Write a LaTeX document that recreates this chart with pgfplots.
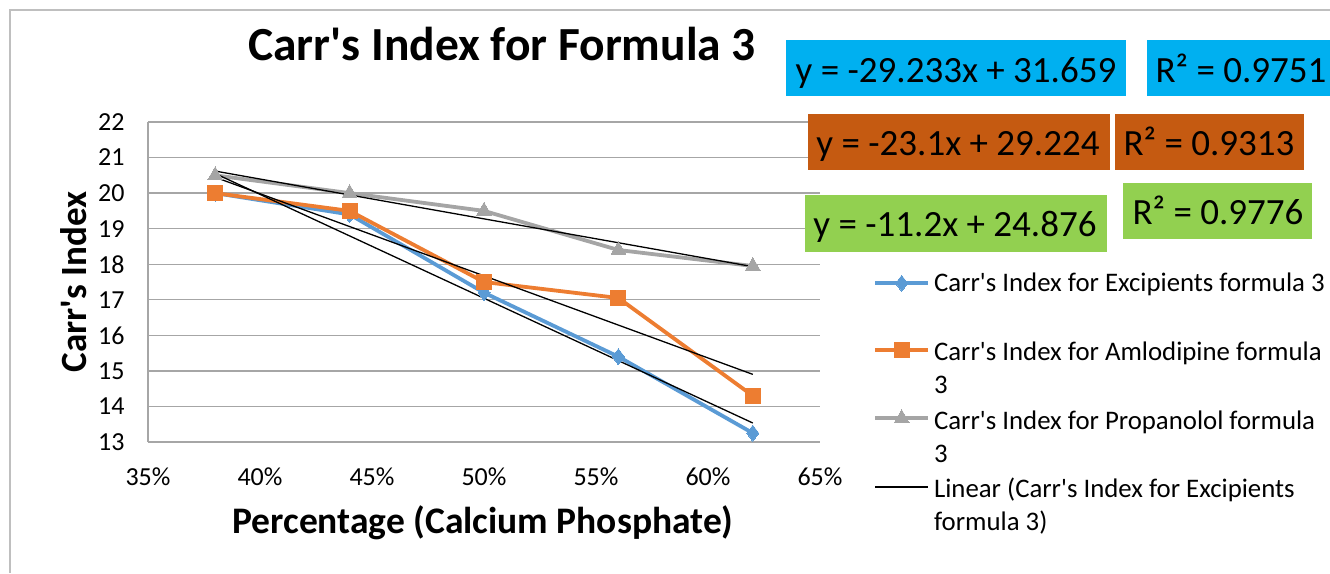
\documentclass[border=0pt]{standalone}
\usepackage{pgfplots}
\pgfplotsset{compat=1.18}
\usepackage{fontspec}
\setmainfont{Carlito}[Ligatures=TeXOff]
\definecolor{sblue}{HTML}{5B9BD5}
\definecolor{sorange}{HTML}{ED7D31}
\definecolor{sgray}{HTML}{A5A5A5}
\definecolor{eqblue}{HTML}{00B0F0}
\definecolor{eqorange}{HTML}{C55A11}
\definecolor{eqgreen}{HTML}{92D050}
\definecolor{gridc}{HTML}{A6A6A6}
\definecolor{framec}{HTML}{BFBFBF}
\newcommand{\legtwo}[2]{\begin{tabular}[t]{@{}l@{}}#1\\#2\end{tabular}}
\begin{document}
\begin{tikzpicture}[x=1pt,y=1pt]
\path[use as bounding box] (0,0) rectangle (1330,573);
\draw[framec, line width=1.3pt] (10,0) -- (10,563) -- (1330,563);
\begin{axis}[
  at={(148pt,131pt)}, anchor=south west,
  scale only axis, width=672pt, height=320pt,
  xmin=0.35, xmax=0.65, ymin=13, ymax=22,
  xtick={0.35,0.40,0.45,0.50,0.55,0.60,0.65},
  xticklabels={35\%,40\%,45\%,50\%,55\%,60\%,65\%},
  ytick={13,14,...,22},
  /pgf/number format/assume math mode=true,
  ymajorgrids, grid style={draw=gridc, line width=1.3pt},
  axis lines=left,
  axis line style={-},
  x axis line style={draw=none},
  y axis line style={draw=gridc, line width=1.3pt},
  major tick length=0pt,
  tick style={draw=none},
  ticklabel style={font=\fontsize{26}{30}\selectfont},
  yticklabel style={xshift=-20pt},
  xticklabel style={yshift=-22pt},
  title={Carr's Index for Formula 3},
  title style={font=\fontsize{47.5}{56}\bfseries, at={(axis description cs:0.527,1.224)}, anchor=center},
  xlabel={Percentage (Calcium Phosphate)},
  xlabel style={font=\fontsize{37.5}{45}\bfseries, at={(axis description cs:0.4985,-0.253)}, anchor=center},
  ylabel={Carr's Index},
  ylabel style={font=\fontsize{37}{44}\bfseries, at={(axis description cs:-0.11,0.5)}, anchor=center},
  legend style={at={(axis description cs:1.079,0.528)}, anchor=north west, draw=none, fill=none,
    font=\fontsize{26.8}{33}\selectfont, row sep=44pt, inner sep=0pt,
    nodes={inner xsep=4pt, inner ysep=0pt}},
  legend cell align=left,
  legend image code/.code={\draw[mark repeat=2,mark phase=2,#1] plot coordinates {(0pt,0pt) (26.5pt,0pt) (53pt,0pt)};},
  clip=false,
]
\addplot[color=sblue, line width=3.8pt, mark=diamond*, mark size=8pt, mark options={solid, fill=sblue, line width=0pt}]
  coordinates {(0.38,20.0) (0.44,19.4) (0.50,17.2) (0.56,15.4) (0.62,13.25)};
\addlegendentry{Carr's Index for Excipients formula 3}
\addplot[color=sorange, line width=3.8pt, mark=square*, mark size=7.5pt, mark options={solid, fill=sorange, line width=0pt}]
  coordinates {(0.38,20.0) (0.44,19.5) (0.50,17.5) (0.56,17.05) (0.62,14.3)};
\addlegendentry{\legtwo{Carr's Index for Amlodipine formula}{3}}
\addplot[color=sgray, line width=3.8pt, mark=triangle*, mark size=8.5pt, mark options={solid, fill=sgray, line width=0pt}]
  coordinates {(0.38,20.5) (0.44,20.0) (0.50,19.5) (0.56,18.4) (0.62,17.95)};
\addlegendentry{\legtwo{Carr's Index for Propanolol formula}{3}}
\addplot[black, line width=1.3pt, mark=none] coordinates {(0.38,20.5505) (0.62,13.5345)};
\addlegendentry{\legtwo{Linear (Carr's Index for Excipients}{formula 3)}}
\addplot[black, line width=1.3pt, mark=none, forget plot] coordinates {(0.38,20.446) (0.62,14.902)};
\addplot[black, line width=1.3pt, mark=none, forget plot] coordinates {(0.38,20.620) (0.62,17.932)};
\end{axis}
% trendline equation labels
\fill[eqblue] (786,477) rectangle (1126,533);
\fill[eqblue] (1147,477) rectangle (1330,533);
\fill[eqorange] (808,403) rectangle (1110,459);
\fill[eqorange] (1115,403) rectangle (1304,459);
\fill[eqgreen] (805,321) rectangle (1107,378);
\fill[eqgreen] (1123,334) rectangle (1312,390);
\begin{scope}[every node/.style={anchor=base, inner sep=0pt, font=\fontsize{37}{44}\selectfont}]
\node at (956,490) {y = -29.233x + 31.659};
\node at (1241,490) {R² = 0.9751};
\node at (958,417) {y = -23.1x + 29.224};
\node at (1209,417) {R² = 0.9313};
\node at (955,336) {y = -11.2x + 24.876};
\node at (1218,348) {R² = 0.9776};
\end{scope}
\end{tikzpicture}
\end{document}
